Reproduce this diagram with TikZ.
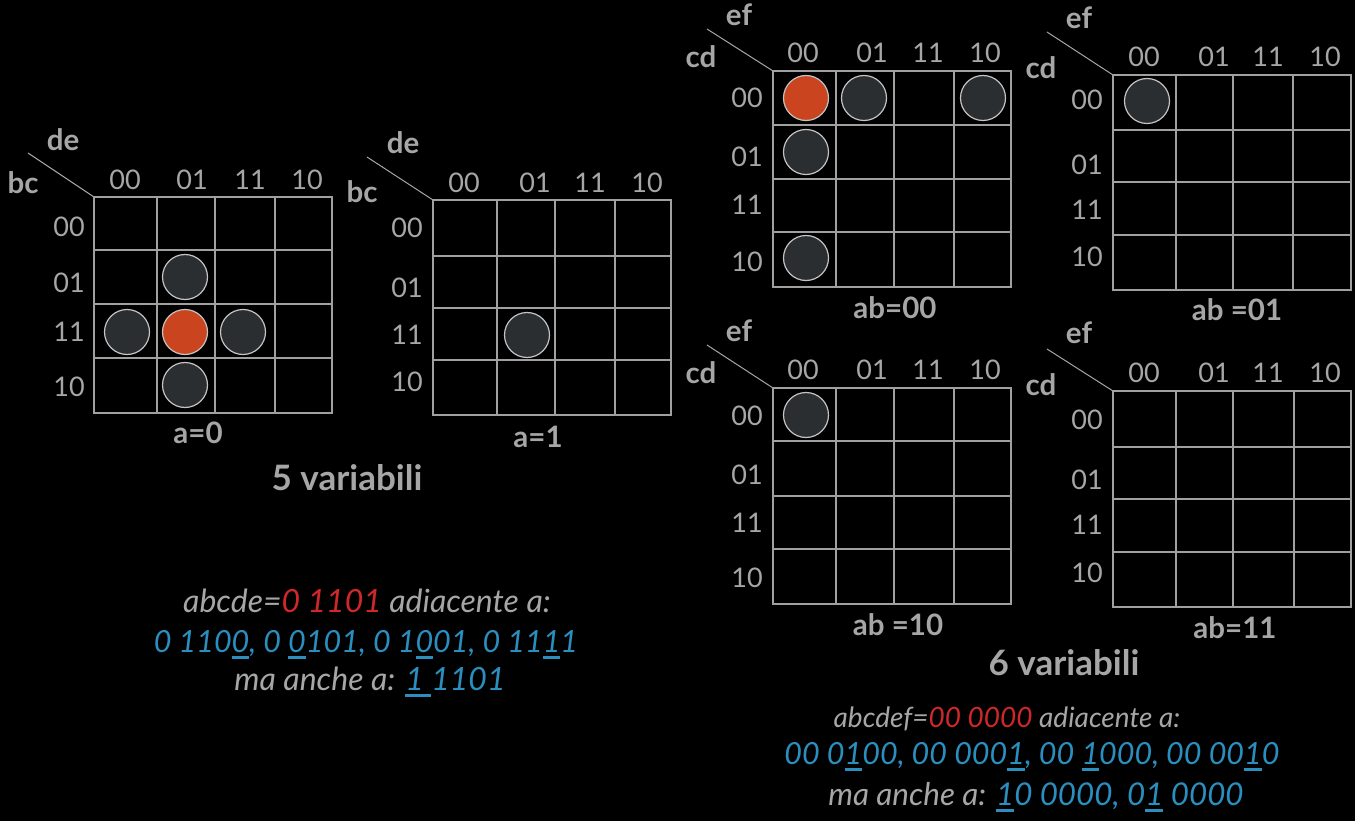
\documentclass[tikz,border=0pt]{standalone}
\usepackage{fontspec}
\setmainfont{Lato}
\definecolor{txtgrey}{HTML}{A6A6A6}
\definecolor{gridgrey}{HTML}{A0A0A0}
\definecolor{ringgrey}{HTML}{C4C4C4}
\definecolor{darkfill}{HTML}{2B2E31}
\definecolor{redfill}{HTML}{C9441F}
\definecolor{redtxt}{HTML}{D0282A}
\definecolor{bluetxt}{HTML}{2A8FBF}
\newsavebox\ulbox
\newcommand\ulx[1]{\sbox\ulbox{#1}\rlap{\rule[-6.5pt]{\wd\ulbox}{3pt}}\usebox\ulbox}
\newcommand\kgrid[6]{%
  \draw[gridline] (#1,#2) rectangle (#3,#4);
  \foreach \c in {#5} {\draw[gridline] (\c,#2) -- (\c,#4);}
  \foreach \r in {#6} {\draw[gridline] (#1,\r) -- (#3,\r);}
}
\begin{document}
\begin{tikzpicture}[x=1pt,y=-1pt,
  gridline/.style={draw=gridgrey,line width=1.3pt},
  diag/.style={draw=txtgrey,line width=1pt},
  lbl/.style={text=txtgrey,font=\fontsize{27}{32}\selectfont,inner sep=0pt},
  rowlbl/.style={lbl,anchor=east},
  vlbl/.style={text=txtgrey,font=\fontsize{29.5}{36}\selectfont\bfseries,inner sep=0pt},
  title/.style={text=txtgrey,font=\fontsize{35}{40}\selectfont\bfseries,inner sep=0pt,anchor=base},
  note/.style={text=txtgrey,font=\fontsize{28}{36}\selectfont\itshape,inner sep=0pt,anchor=base},
  note30/.style={note,font=\fontsize{30.5}{38}\selectfont\itshape},
  note31/.style={note,font=\fontsize{31.4}{38}\selectfont\itshape},
  bignote/.style={note,font=\fontsize{32}{40}\selectfont\itshape},
  dot/.style={circle,draw=ringgrey,line width=1.2pt,fill=darkfill,minimum size=45pt,inner sep=0pt},
  reddot/.style={dot,fill=redfill}]
\fill[black] (0,0) rectangle (1355,821);
\useasboundingbox (0,0) rectangle (1355,821);

% ---------- Grid 1 : a=0 ----------
\kgrid{94}{197}{332}{413}{157,215,275}{250,304,358}
\foreach \t/\x in {00/125,01/192,11/250,10/307} \node[lbl] (g1c\t) at (\x,180) {\t};
\foreach \t/\y in {00/227,01/283,11/332,10/387} \node[rowlbl] (g1r\t) at (85,\y) {\t};
\node[vlbl] (g1de) at (63,140) {de};
\node[vlbl] (g1bc) at (23,183) {bc};
\coordinate (g1d) at (28,153); \coordinate (g1tl) at (94,197);
\draw[diag] (g1d) -- (g1tl);
\node[vlbl] (g1t) at (198,433) {a=0};
\node[dot] (g1p1) at (185,277) {};
\node[dot] (g1p2) at (127,332) {};
\node[reddot] (g1p3) at (185,332) {};
\node[dot] (g1p4) at (243,332) {};
\node[dot] (g1p5) at (185,385) {};

% ---------- Grid 2 : a=1 ----------
\kgrid{433}{200}{671}{415}{497,555,615}{256,308,360}
\foreach \t/\x in {00/464,01/535,11/590,10/647} \node[lbl] (g2c\t) at (\x,183) {\t};
\foreach \t/\y in {00/228,01/288,11/335,10/382} \node[rowlbl] (g2r\t) at (423,\y) {\t};
\node[vlbl] (g2de) at (403,143) {de};
\node[vlbl] (g2bc) at (362,192) {bc};
\coordinate (g2d) at (367,157); \coordinate (g2tl) at (433,200);
\draw[diag] (g2d) -- (g2tl);
\node[vlbl] (g2t) at (538,437) {a=1};
\node[dot] (g2p1) at (527,335) {};

% ---------- Grid 3 : ab=00 ----------
\kgrid{773}{71}{1011}{287}{836,894,954}{125,179,232}
\foreach \t/\x in {00/803,01/872,11/928,10/985} \node[lbl] (g3c\t) at (\x,53) {\t};
\foreach \t/\y in {00/98,01/157,11/205,10/262} \node[rowlbl] (g3r\t) at (763,\y) {\t};
\node[vlbl] (g3ef) at (739,15) {ef};
\node[vlbl] (g3cd) at (701,57) {cd};
\coordinate (g3d) at (707,29); \coordinate (g3tl) at (773,71);
\draw[diag] (g3d) -- (g3tl);
\node[vlbl] (g3t) at (895,308) {ab=00};
\node[reddot] (g3p1) at (806,98) {};
\node[dot] (g3p2) at (864,98) {};
\node[dot] (g3p3) at (983,98) {};
\node[dot] (g3p4) at (806,152) {};
\node[dot] (g3p5) at (806,258) {};

% ---------- Grid 4 : ab=01 ----------
\kgrid{1113}{75}{1351}{290}{1176,1233,1293}{130,182,235}
\foreach \t/\x in {00/1144,01/1214,11/1268,10/1325} \node[lbl] (g4c\t) at (\x,57) {\t};
\foreach \t/\y in {00/100,01/165,11/210,10/257} \node[rowlbl] (g4r\t) at (1103,\y) {\t};
\node[vlbl] (g4ef) at (1079,18) {ef};
\node[vlbl] (g4cd) at (1041,68) {cd};
\coordinate (g4d) at (1047,32); \coordinate (g4tl) at (1113,75);
\draw[diag] (g4d) -- (g4tl);
\node[vlbl] (g4t) at (1237,310) {ab =01};
\node[dot] (g4p1) at (1147,101) {};

% ---------- Grid 5 : ab=10 ----------
\kgrid{773}{388}{1011}{604}{836,894,954}{441,496,549}
\foreach \t/\x in {00/803,01/872,11/928,10/985} \node[lbl] (g5c\t) at (\x,370) {\t};
\foreach \t/\y in {00/416,01/475,11/523,10/578} \node[rowlbl] (g5r\t) at (763,\y) {\t};
\node[vlbl] (g5ef) at (739,331) {ef};
\node[vlbl] (g5cd) at (701,373) {cd};
\coordinate (g5d) at (707,345); \coordinate (g5tl) at (773,388);
\draw[diag] (g5d) -- (g5tl);
\node[vlbl] (g5t) at (898,625) {ab =10};
\node[dot] (g5p1) at (806,415) {};

% ---------- Grid 6 : ab=11 ----------
\kgrid{1113}{391}{1351}{607}{1176,1233,1294}{447,499,552}
\foreach \t/\x in {00/1144,01/1214,11/1268,10/1325} \node[lbl] (g6c\t) at (\x,373) {\t};
\foreach \t/\y in {00/420,01/480,11/525,10/573} \node[rowlbl] (g6r\t) at (1103,\y) {\t};
\node[vlbl] (g6ef) at (1079,333) {ef};
\node[vlbl] (g6cd) at (1041,385) {cd};
\coordinate (g6d) at (1047,349); \coordinate (g6tl) at (1113,391);
\draw[diag] (g6d) -- (g6tl);
\node[vlbl] (g6t) at (1235,628) {ab=11};

% ---------- titles ----------
\node[title] (t5) at (347,490) {5 variabili};
\node[title] (t6) at (1064,675) {6 variabili};

% ---------- notes ----------
\node[bignote] (n5a) at (367,612) {abcde={\color{redtxt}0 1101} adiacente a:};
\node[note30,text=bluetxt] (n5b) at (366,652) {0 110\ulx{0}, 0 \ulx{0}101, 0 1\ulx{0}01, 0 11\ulx{1}1};
\node[bignote] (n5c) at (370,690) {ma anche a: {\color{bluetxt}\ulx{1 }1101}};

\node[note] (n6a) at (1007,727) {abcdef={\color{redtxt}00 0000} adiacente a:};
\node[note30,text=bluetxt] (n6b) at (1032,764) {00 0\ulx{1}00, 00 000\ulx{1}, 00 \ulx{1}000, 00 00\ulx{1}0};
\node[note31] (n6c) at (1036,805) {ma anche a: {\color{bluetxt}\ulx{1}0 0000, 0\ulx{1} 0000}};
\end{tikzpicture}
\end{document}
